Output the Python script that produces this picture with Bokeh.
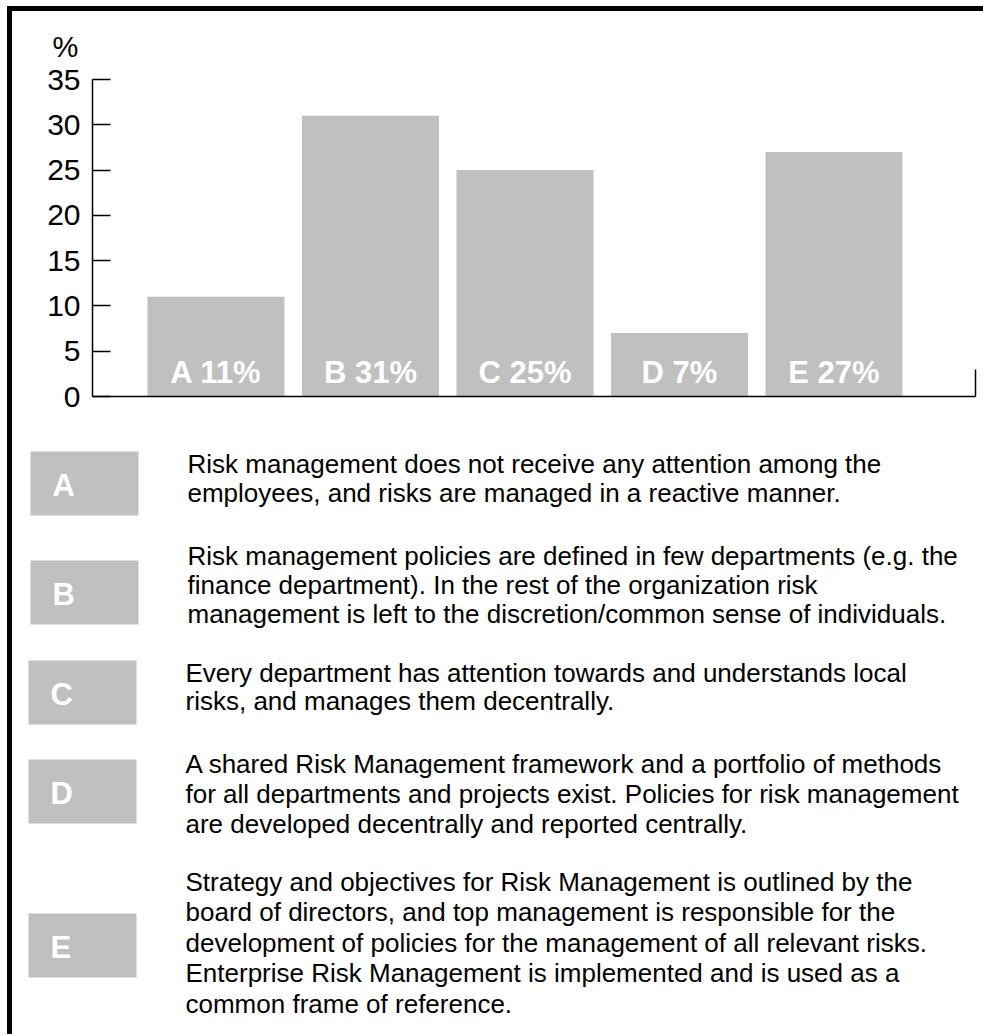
from bokeh.plotting import figure
from bokeh.layouts import column, row
from bokeh.models import Range1d, FixedTicker, Div
from bokeh.core.properties import value
from bokeh.embed import file_html
from bokeh.resources import INLINE

# ---------------- data ----------------
categories = ["A", "B", "C", "D", "E"]
percentages = [11, 31, 25, 7, 27]
y_ticks = [0, 5, 10, 15, 20, 25, 30, 35]
descriptions = [
    "Risk management does not receive any attention among the\n"
    "employees, and risks are managed in a reactive manner.",
    "Risk management policies are defined in few departments (e.g. the\n"
    "finance department).  In the rest of the organization risk\n"
    "management is left to the discretion/common sense of individuals.",
    "Every department has attention towards and understands local\n"
    "risks, and manages them decentrally.",
    "A shared Risk Management framework and a portfolio of methods\n"
    "for all departments and projects exist.  Policies for risk management\n"
    "are developed decentrally and reported centrally.",
    "Strategy and objectives for Risk Management is outlined by the\n"
    "board of directors, and top management is responsible for the\n"
    "development of policies for the management of all relevant risks.\n"
    "Enterprise Risk Management is implemented and is used as a\n"
    "common frame of reference.",
]

FONT = "Liberation Sans"
BAR_COLOR = "#c0c0c0"
W = 971
H1 = 405
H2 = 618

# ---------------- top chart ----------------
xs = [i + 1 for i in range(len(categories))]
x_start, x_end = 0.201, 5.916

p = figure(width=W, height=H1, x_range=Range1d(x_start, x_end), y_range=Range1d(0, 35),
           output_backend="svg", toolbar_location=None, title="%",
           min_border_left=80, min_border_right=8, min_border_top=68, min_border_bottom=20)
p.frame_align = False
p.grid.visible = False
p.outline_line_color = None
p.background_fill_color = "white"
p.border_fill_color = "white"

p.title.text_font = FONT
p.title.text_font_size = "29px"
p.title.text_font_style = "normal"
p.title.text_color = "black"
p.title.align = "left"
p.title.offset = -40
p.title.standoff = 34

p.vbar(x=xs, top=percentages, bottom=0, width=0.887, fill_color=BAR_COLOR, line_color=None)
p.text(x=xs, y=[0] * len(xs), text=[f"{c} {v}%" for c, v in zip(categories, percentages)],
       text_align="center", text_baseline="alphabetic", y_offset=-24,
       text_font=value(FONT), text_font_style="bold", text_font_size="31px", text_color="white")

yax = p.yaxis[0]
yax.ticker = FixedTicker(ticks=y_ticks)
yax.major_tick_in = 18
yax.major_tick_out = 0
yax.minor_tick_in = 0
yax.minor_tick_out = 0
yax.major_label_text_font = FONT
yax.major_label_text_font_size = "30px"
yax.major_label_text_color = "black"
yax.major_label_standoff = 12
yax.axis_line_width = 1.5
yax.major_tick_line_width = 1.5
yax.axis_line_color = "black"

xax = p.xaxis[0]
end_tick = x_end - 0.002
xax.ticker = FixedTicker(ticks=[end_tick])
xax.major_label_overrides = {end_tick: ""}
xax.major_label_text_font_size = "1px"
xax.major_label_standoff = 0
xax.major_tick_in = 27
xax.major_tick_out = 0
xax.minor_tick_in = 0
xax.minor_tick_out = 0
xax.axis_line_width = 1.5
xax.major_tick_line_width = 1.5
xax.axis_line_color = "black"

# ---------------- bottom legend ----------------
q = figure(width=W, height=H2, x_range=Range1d(0, W), y_range=Range1d(H2, 0),
           output_backend="svg", toolbar_location=None, min_border=0,
           x_axis_type=None, y_axis_type=None)
q.frame_align = False
q.grid.visible = False
q.outline_line_color = None

# layout positions (pixels inside the legend panel)
box_left = [18, 18, 16, 16, 16]
box_top = [35, 144, 244, 343, 497]
first_base = [47, 139, 256, 347, 465]
line_step = [29, 29, 28, 30, 30.5]
BOX_W, BOX_H = 108, 64

q.quad(left=box_left, right=[b + BOX_W for b in box_left],
       top=box_top, bottom=[t + BOX_H for t in box_top],
       fill_color=BAR_COLOR, line_color=None)
q.text(x=[b + 22 for b in box_left], y=[t + 33.5 for t in box_top], text=categories,
       text_align="left", text_baseline="alphabetic",
       text_font=value(FONT), text_font_style="bold", text_font_size="31px", text_color="white")

lx, ly, lt = [], [], []
for i, desc in enumerate(descriptions):
    for j, line in enumerate(desc.split("\n")):
        lx.append(box_left[i] + 157)
        ly.append(first_base[i] + j * line_step[i])
        lt.append(line)
q.text(x=lx, y=ly, text=lt, text_align="left", text_baseline="alphabetic",
       text_font=value(FONT), text_font_size="26px", text_color="black")

# ---------------- frame (black bars on top and left) ----------------
def bar(w, h, color=None):
    styles = {"background-color": color} if color else {}
    return Div(text="", width=w, height=h, margin=0, styles=styles)

inner = row(bar(5, H1 + H2, "black"), column(p, q, spacing=0), spacing=0)
boxed = column(bar(W + 5, 6), bar(W + 5, 5, "black"), inner, spacing=0)
layout = row(bar(7, 1), boxed, spacing=0)

open("out.html", "w").write(file_html(layout, INLINE))
